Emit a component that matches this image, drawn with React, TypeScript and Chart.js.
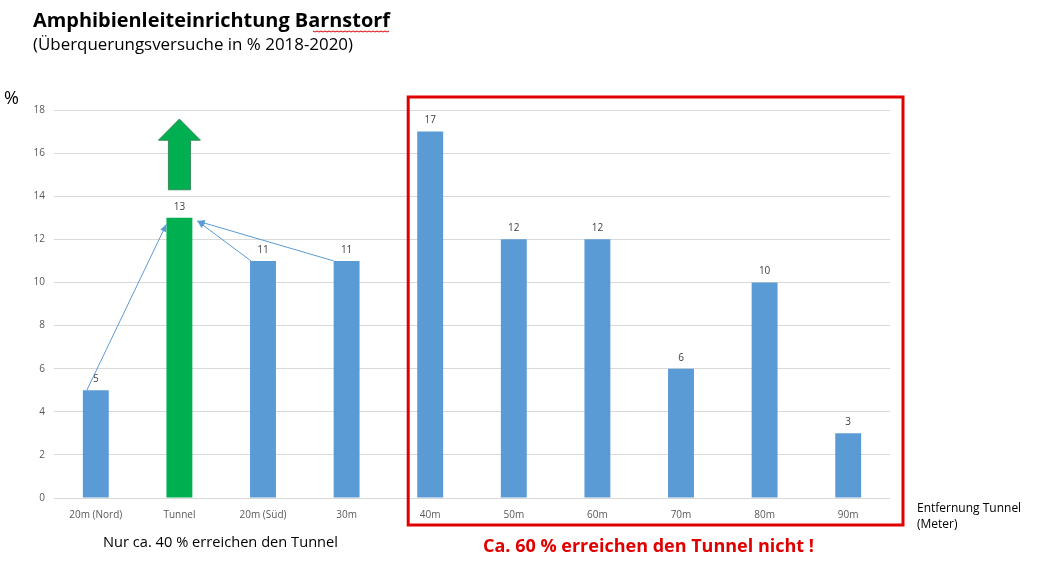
import { useEffect, useRef } from 'react';
import { Chart, registerables } from 'chart.js';

Chart.register(...registerables);

const categories = [
  '20m (Nord)',
  'Tunnel',
  '20m (Süd)',
  '30m',
  '40m',
  '50m',
  '60m',
  '70m',
  '80m',
  '90m',
];
const values = [5, 13, 11, 11, 17, 12, 12, 6, 10, 3];
const barColors = values.map((_, i) => (i === 1 ? '#00B050' : '#5B9BD5'));

const titleText = 'Amphibienleiteinrichtung Barnstorf';
const subtitleText = '(Überquerungsversuche in % 2018-2020)';
const leftNote = 'Nur ca. 40 % erreichen den Tunnel';
const rightNote = 'Ca. 60 % erreichen den Tunnel nicht !';
const axisNote = ['Entfernung Tunnel', '(Meter)'];

const labelFont = '"Open Sans", "Noto Sans", sans-serif';

function arrowLine(ctx: CanvasRenderingContext2D, x1: number, y1: number, x2: number, y2: number) {
  const a = Math.atan2(y2 - y1, x2 - x1);
  ctx.beginPath();
  ctx.moveTo(x1, y1);
  ctx.lineTo(x2, y2);
  ctx.stroke();
  const l = 8;
  const w = 0.4;
  ctx.beginPath();
  ctx.moveTo(x2, y2);
  ctx.lineTo(x2 - l * Math.cos(a - w), y2 - l * Math.sin(a - w));
  ctx.lineTo(x2 - l * Math.cos(a + w), y2 - l * Math.sin(a + w));
  ctx.closePath();
  ctx.fill();
}

const overlay = {
  id: 'overlay',
  afterDatasetsDraw(chart: Chart) {
    const { ctx, chartArea } = chart;
    const x = chart.scales.x;
    const y = chart.scales.y;
    const meta = chart.getDatasetMeta(0);
    ctx.save();

    // value labels
    ctx.fillStyle = '#404040';
    ctx.font = `10px ${labelFont}`;
    ctx.textAlign = 'center';
    ctx.textBaseline = 'bottom';
    meta.data.forEach((el: any, i: number) => {
      ctx.fillText(String(values[i]), el.x, el.y - 6);
    });

    // blue arrows towards the tunnel
    const tx = x.getPixelForTick(1);
    ctx.strokeStyle = '#5B9BD5';
    ctx.fillStyle = '#5B9BD5';
    ctx.lineWidth = 1;
    arrowLine(ctx, x.getPixelForTick(0) - 9, y.getPixelForValue(5), tx - 13, y.getPixelForValue(12.7));
    arrowLine(ctx, x.getPixelForTick(2) - 12, y.getPixelForValue(11), tx + 18, y.getPixelForValue(12.85));
    arrowLine(ctx, x.getPixelForTick(3) - 13, y.getPixelForValue(11), tx + 18, y.getPixelForValue(12.85));

    // green block arrow
    const tip = y.getPixelForValue(17.58);
    const base = y.getPixelForValue(16.6);
    const bottom = y.getPixelForValue(14.3);
    ctx.beginPath();
    ctx.moveTo(tx, tip);
    ctx.lineTo(tx + 21, base);
    ctx.lineTo(tx + 11, base);
    ctx.lineTo(tx + 11, bottom);
    ctx.lineTo(tx - 11, bottom);
    ctx.lineTo(tx - 11, base);
    ctx.lineTo(tx - 21, base);
    ctx.closePath();
    ctx.fillStyle = '#00B050';
    ctx.fill();
    ctx.strokeStyle = '#2E8B57';
    ctx.lineWidth = 1;
    ctx.stroke();

    // red frame
    const left = x.getPixelForTick(4) - 22;
    ctx.strokeStyle = '#E00000';
    ctx.lineWidth = 3;
    ctx.strokeRect(left, chartArea.top - 13, chartArea.right + 13 - left, chartArea.bottom + 27 - (chartArea.top - 13));

    // texts
    ctx.textAlign = 'left';
    ctx.textBaseline = 'alphabetic';
    ctx.fillStyle = '#000';
    ctx.font = `bold 20px ${labelFont}`;
    ctx.fillText(titleText, 33, 27, 357);
    ctx.font = `17px ${labelFont}`;
    ctx.fillText(subtitleText, 33, 50, 320);
    ctx.font = `18px ${labelFont}`;
    ctx.fillText('%', 4, 104);

    // spell-check squiggle
    ctx.strokeStyle = '#E00000';
    ctx.lineWidth = 1;
    ctx.beginPath();
    for (let px = 313; px <= 390; px += 2) {
      const py = 31 + ((px - 313) / 2) % 2;
      if (px === 313) ctx.moveTo(px, py);
      else ctx.lineTo(px, py);
    }
    ctx.stroke();

    ctx.fillStyle = '#000';
    ctx.font = `15px ${labelFont}`;
    ctx.fillText(leftNote, 103, 547, 235);
    ctx.font = `12px ${labelFont}`;
    ctx.fillText(axisNote[0], 917, 512, 107);
    ctx.fillText(axisNote[1], 917, 528);
    ctx.fillStyle = '#E00000';
    ctx.font = `bold 18px ${labelFont}`;
    ctx.fillText(rightNote, 483, 552, 333);

    ctx.restore();
  },
};

export default function App() {
  const canvasRef = useRef<HTMLCanvasElement>(null);
  const chartRef = useRef<Chart | null>(null);

  useEffect(() => {
    if (!canvasRef.current) return;
    chartRef.current?.destroy();

    chartRef.current = new Chart(canvasRef.current, {
      type: 'bar',
      data: {
        labels: categories,
        datasets: [
          {
            data: values,
            backgroundColor: barColors,
            categoryPercentage: 1,
            barPercentage: 0.31,
          },
        ],
      },
      options: {
        animation: false,
        responsive: false,
        maintainAspectRatio: false,
        layout: { padding: { top: 110, right: 147, left: 2, bottom: 0 } },
        plugins: {
          legend: { display: false },
          tooltip: { enabled: false },
          title: { display: false },
        },
        scales: {
          x: {
            grid: { display: false },
            border: { display: false },
            ticks: { color: '#595959', font: { size: 10, family: labelFont }, padding: 3, maxRotation: 0 },
            afterFit: (s: any) => {
              s.height = 66;
            },
          },
          y: {
            min: 0,
            max: 18,
            ticks: { stepSize: 2, color: '#595959', font: { size: 10, family: labelFont }, padding: 9 },
            grid: { color: '#D9D9D9', drawTicks: false },
            border: { display: false },
            afterFit: (s: any) => {
              s.width = 52;
            },
          },
        },
      },
      plugins: [overlay],
    });

    return () => {
      chartRef.current?.destroy();
    };
  }, []);

  return (
    <div style={{ position: 'fixed', left: 0, top: 0, width: 1037, height: 564, background: '#fff' }}>
      <canvas ref={canvasRef} width={1037} height={564} />
    </div>
  );
}
